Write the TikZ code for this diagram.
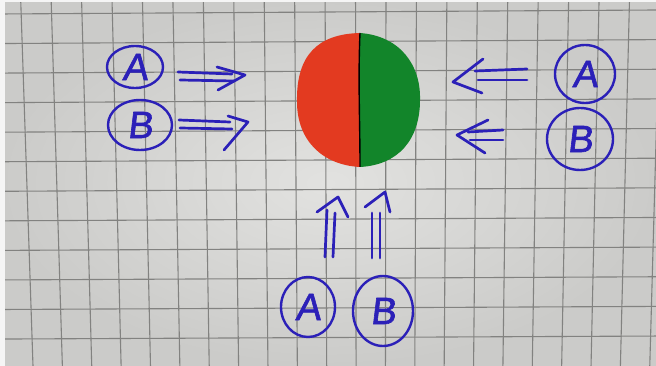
\documentclass[tikz,border=0pt]{standalone}
\usepackage{fontspec}
\setmainfont{Liberation Sans}
\newfontfamily\hand[FakeSlant=0.12,FakeBold=1.6]{Liberation Sans}
\usetikzlibrary{shapes.geometric}
\definecolor{penblue}{HTML}{2B20B8}
\definecolor{bgin}{HTML}{E2E2E0}
\definecolor{bgout}{HTML}{CBCBC9}
\definecolor{gridc}{HTML}{828280}
\definecolor{redh}{HTML}{E33A20}
\definecolor{greenh}{HTML}{12852A}
\begin{document}
\begin{tikzpicture}[x=1pt,y=-1pt,
  pen/.style={draw=penblue, line width=2.7pt, line cap=round, line join=round},
  ring/.style={draw=penblue, line width=2.4pt, ellipse, inner sep=0pt, text=penblue,
     font=\hand\fontsize{38}{38}\selectfont},
  gridline/.style={draw=gridc, line width=1.1pt}]
\useasboundingbox (0,0) rectangle (656,366);
% paper
\shade[inner color=bgin, outer color=bgout] (0,0) rectangle (656,366);
\foreach \k in {0,...,21}{
  \draw[gridline] ({20.7+30.44*\k},0) -- ({33+29.37*\k},366);
}
\foreach \j in {0,...,11}{
  \draw[gridline] (0,{14+29.55*\j}) -- (656,{10+29.64*\j});
}
\fill[white!92!gray] (0,0) rectangle (5,366);
\fill[white!92!gray] (0,0) rectangle (656,2);
% blob
\fill[redh] (360,33) .. controls (318,34) and (296,55) .. (297,102)
   .. controls (297,140) and (322,165) .. (360,167) -- cycle;
\fill[greenh] (360,33) .. controls (400,36) and (421,65) .. (420,100)
   .. controls (420,140) and (398,165) .. (360,167) -- cycle;
\draw[black, line width=1.4pt] (360,33) .. controls (358,80) and (360,120) .. (360,167);
% rings
\node[ring, minimum width=56pt, minimum height=42pt] (lA) at (135,67) {A};
\node[ring, minimum width=64pt, minimum height=50pt] (lB) at (140,125) {B};
\node[ring, minimum width=60pt, minimum height=58pt] (rA) at (585,74) {A};
\node[ring, minimum width=66pt, minimum height=62pt] (rB) at (580,139) {B};
\node[ring, minimum width=54pt, minimum height=60pt] (bA) at (308,307) {A};
\node[ring, minimum width=60pt, minimum height=70pt] (bB) at (383,311) {B};
% left A arrow
\coordinate (la1) at (178,72); \coordinate (la2) at (232,74);
\coordinate (la3) at (180,80); \coordinate (la4) at (234,81);
\coordinate (lah1) at (217,67); \coordinate (lat) at (245,75); \coordinate (lah2) at (218,90);
\draw[pen] (la1) -- (la2); \draw[pen] (la3) -- (la4);
\draw[pen] (lah1) -- (lat) -- (lah2);
% left B arrow
\coordinate (lb1) at (179,120); \coordinate (lb2) at (230,122);
\coordinate (lb3) at (180,128); \coordinate (lb4) at (232,129);
\coordinate (lbh1) at (228,116); \coordinate (lbt) at (248,122); \coordinate (lbh2) at (224,150);
\draw[pen] (lb1) -- (lb2); \draw[pen] (lb3) -- (lb4);
\draw[pen] (lbh1) -- (lbt) -- (lbh2);
% right A arrow
\coordinate (ra1) at (527,69); \coordinate (ra2) at (475,71);
\coordinate (ra3) at (527,80); \coordinate (ra4) at (478,80);
\coordinate (rah1) at (483,59); \coordinate (rat) at (453,82); \coordinate (rah2) at (482,93);
\draw[pen] (ra1) -- (ra2); \draw[pen] (ra3) -- (ra4);
\draw[pen] (rah1) -- (rat) -- (rah2);
% right B arrow
\coordinate (rb1) at (503,130); \coordinate (rb2) at (468,132);
\coordinate (rb3) at (503,140); \coordinate (rb4) at (470,140);
\coordinate (rbh1) at (488,120); \coordinate (rbt) at (457,135); \coordinate (rbh2) at (485,153);
\draw[pen] (rb1) -- (rb2); \draw[pen] (rb3) -- (rb4);
\draw[pen] (rbh1) -- (rbt) -- (rbh2);
% bottom A arrow
\coordinate (ba1) at (325,257); \coordinate (ba2) at (327,210);
\coordinate (ba3) at (333,257); \coordinate (ba4) at (335,213);
\coordinate (bah1) at (317,212); \coordinate (bat) at (338,197); \coordinate (bah2) at (348,217);
\draw[pen] (ba1) -- (ba2); \draw[pen] (ba3) -- (ba4);
\draw[pen] (bah1) -- (bat) -- (bah2);
% bottom B arrow
\coordinate (bb1) at (372,258); \coordinate (bb2) at (372,213);
\coordinate (bb3) at (380,258); \coordinate (bb4) at (380,213);
\coordinate (bbh1) at (365,207); \coordinate (bbt) at (385,192); \coordinate (bbh2) at (390,212);
\draw[pen] (bb1) -- (bb2); \draw[pen] (bb3) -- (bb4);
\draw[pen] (bbh1) -- (bbt) -- (bbh2);
\end{tikzpicture}
\end{document}
